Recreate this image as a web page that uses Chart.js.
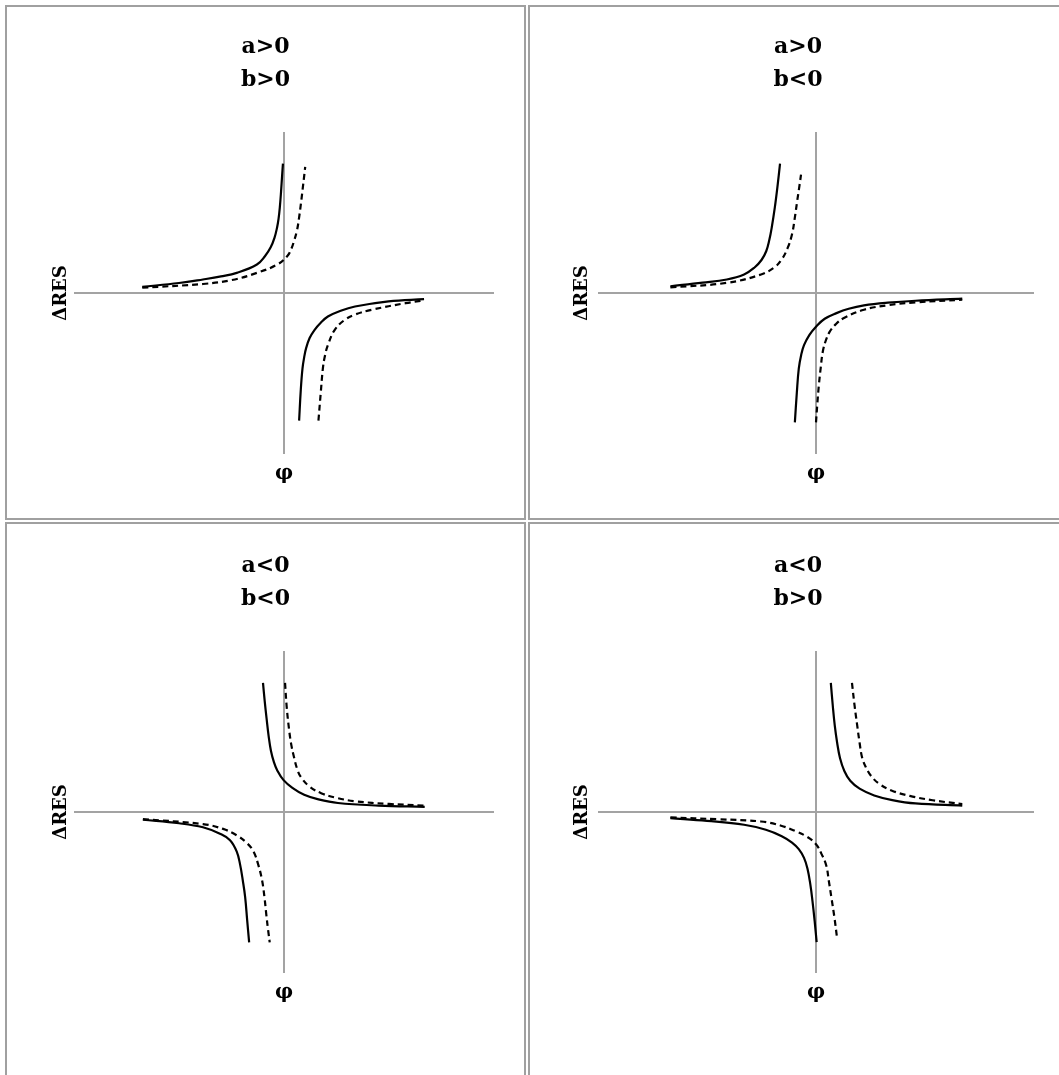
<!DOCTYPE html>
<html>
<head>
<meta charset="utf-8">
<script src="https://cdn.jsdelivr.net/npm/chart.js@4.4.1/dist/chart.umd.min.js"></script>
<style>
  body { margin: 0; background: #fff; overflow: hidden; width: 1059px; height: 1075px; }
  .cell { position: absolute; box-sizing: border-box; border: 2px solid #a0a0a0; }
  canvas { position: absolute; }
</style>
</head>
<body>
<div class="cell" style="left:5px;top:5px;width:521px;height:515px"></div>
<div class="cell" style="left:528px;top:5px;width:540px;height:515px"></div>
<div class="cell" style="left:5px;top:522px;width:521px;height:600px"></div>
<div class="cell" style="left:528px;top:522px;width:540px;height:600px"></div>

<canvas id="chart-0" width="517" height="511" style="left:7px;top:7px"></canvas>
<canvas id="chart-1" width="536" height="511" style="left:530px;top:7px"></canvas>
<canvas id="chart-2" width="517" height="511" style="left:7px;top:526px"></canvas>
<canvas id="chart-3" width="536" height="511" style="left:530px;top:526px"></canvas>

<script>
const xLabel = 'φ';
const yLabel = 'ΔRES';
const panelTitles = [['a>0', 'b>0'], ['a>0', 'b<0'], ['a<0', 'b<0'], ['a<0', 'b>0']];

// [φ, ΔRES] pairs, axes run -10..10
// a>0, b>0
const tlSolidUp = [[-6.75, 0.38], [-5, 0.62], [-3.86, 0.84], [-3, 1.03], [-2.25, 1.25], [-1.29, 1.77], [-0.9, 2.3], [-0.64, 2.82], [-0.45, 3.44], [-0.33, 4.07], [-0.26, 4.6], [-0.2, 5.3], [-0.14, 6.3], [-0.09, 7.3], [-0.05, 8.04]];
const tlSolidDown = [[0.72, -7.93], [0.8, -6.0], [0.88, -4.7], [0.96, -4.0], [1.05, -3.44], [1.22, -2.8], [1.45, -2.3], [1.75, -1.85], [2.09, -1.46], [2.7, -1.1], [3.38, -0.84], [4.98, -0.52], [6.67, -0.38]];
const tlDashUp = [[-6.75, 0.33], [-3.86, 0.56], [-2.5, 0.8], [-1.29, 1.25], [-0.32, 1.77], [0.16, 2.3], [0.35, 2.75], [0.48, 3.24], [0.62, 3.9], [0.72, 4.7], [0.82, 5.7], [0.91, 6.7], [1.01, 7.83]];
const tlDashDown = [[1.64, -7.93], [1.75, -6.2], [1.85, -4.7], [1.95, -3.9], [2.09, -3.24], [2.41, -2.3], [2.89, -1.67], [3.4, -1.33], [4.18, -1.04], [5.79, -0.63], [6.67, -0.46]];

// a>0, b<0
const trSolidUp = [[-6.68, 0.42], [-5.2, 0.64], [-4.09, 0.84], [-3.3, 1.15], [-2.83, 1.57], [-2.5, 2.05], [-2.28, 2.61], [-2.14, 3.3], [-2.03, 4.07], [-1.89, 5.3], [-1.77, 6.58], [-1.65, 8.04]];
const trSolidDown = [[-0.97, -8.04], [-0.88, -6.2], [-0.79, -4.7], [-0.68, -3.85], [-0.55, -3.24], [-0.3, -2.6], [0, -2.09], [0.4, -1.6], [0.94, -1.25], [1.5, -0.98], [2.2, -0.77], [3.3, -0.6], [4.56, -0.48], [6.71, -0.35]];
const trDashUp = [[-6.68, 0.35], [-4.09, 0.63], [-2.52, 1.15], [-1.9, 1.6], [-1.57, 2.09], [-1.3, 2.8], [-1.1, 3.65], [-0.98, 4.6], [-0.86, 5.74], [-0.755, 6.7], [-0.66, 7.62]];
const trDashDown = [[0, -8.04], [0.06, -6.9], [0.13, -5.74], [0.22, -4.6], [0.31, -3.65], [0.45, -2.95], [0.63, -2.4], [0.9, -1.95], [1.26, -1.57], [2.2, -1.04], [3.3, -0.76], [4.56, -0.58], [6.71, -0.42]];

// a<0, b<0
const blSolidUp = [[-1.0, 8.02], [-0.92, 6.9], [-0.83, 5.81], [-0.73, 4.7], [-0.62, 3.79], [-0.48, 3.1], [-0.32, 2.58], [-0.02, 1.98], [0.4, 1.5], [0.96, 1.07], [1.6, 0.8], [2.57, 0.56], [4.5, 0.4], [6.7, 0.32]];
const blSolidDown = [[-6.72, -0.48], [-5, -0.7], [-3.86, -0.95], [-3.05, -1.35], [-2.57, -1.75], [-2.25, -2.46], [-2.09, -3.27], [-1.96, -4.27], [-1.85, -5.28], [-1.755, -6.7], [-1.66, -8.1]];
const blDashUp = [[0.05, 8.02], [0.13, 6.5], [0.24, 5.14], [0.35, 4.15], [0.48, 3.39], [0.62, 2.7], [0.8, 2.18], [1.2, 1.6], [1.77, 1.17], [2.5, 0.88], [3.38, 0.67], [5, 0.5], [6.7, 0.4]];
const blDashDown = [[-6.72, -0.44], [-3.86, -0.75], [-2.9, -1.05], [-2.25, -1.45], [-1.75, -1.95], [-1.45, -2.46], [-1.22, -3.3], [-1.04, -4.27], [-0.93, -5.3], [-0.84, -6.4], [-0.76, -7.3], [-0.68, -8.1]];

// a<0, b>0
const brSolidUp = [[0.68, 8.02], [0.77, 6.6], [0.86, 5.38], [0.97, 4.3], [1.1, 3.36], [1.3, 2.55], [1.57, 1.94], [2.0, 1.45], [2.67, 1.03], [3.5, 0.74], [4.56, 0.53], [6.71, 0.4]];
const brSolidDown = [[-6.68, -0.38], [-5, -0.55], [-3.3, -0.79], [-2.3, -1.1], [-1.57, -1.5], [-1.1, -1.9], [-0.79, -2.31], [-0.55, -2.85], [-0.39, -3.52], [-0.26, -4.5], [-0.16, -5.55], [-0.06, -6.8], [0.03, -8.08]];
const brDashUp = [[1.65, 8.02], [1.77, 6.6], [1.89, 5.38], [2.0, 4.3], [2.12, 3.36], [2.3, 2.75], [2.52, 2.25], [2.9, 1.75], [3.46, 1.34], [4.3, 1.0], [5.35, 0.73], [6.71, 0.49]];
const brDashDown = [[-6.68, -0.34], [-4.5, -0.45], [-2.52, -0.59], [-1.6, -0.85], [-0.94, -1.19], [-0.4, -1.55], [0, -2.0], [0.25, -2.6], [0.47, -3.32], [0.59, -4.3], [0.71, -5.34], [0.85, -6.6], [0.97, -7.87]];

const panels = [
    { solid: [tlSolidUp, tlSolidDown], dashed: [tlDashUp, tlDashDown] },
    { solid: [trSolidUp, trSolidDown], dashed: [trDashUp, trDashDown] },
    { solid: [blSolidUp, blSolidDown], dashed: [blDashUp, blDashDown] },
    { solid: [brSolidUp, brSolidDown], dashed: [brDashUp, brDashDown] }
];

// left/right spacing around the plot area, per column
const boxes = [
    { left: 67, right: 30, labelPad: 44 },
    { left: 68, right: 32, labelPad: 42 },
    { left: 67, right: 30, labelPad: 44 },
    { left: 68, right: 32, labelPad: 42 }
];

Chart.defaults.font.family = "'DejaVu Serif', serif";
Chart.defaults.color = '#000';

const AXIS_GRAY = '#a3a3a3';
const zeroLine = ctx => (ctx.tick && ctx.tick.value === 0) ? AXIS_GRAY : 'rgba(0,0,0,0)';

function branch(points, dashed) {
    return {
        data: points.map(([x, y]) => ({ x, y })),
        showLine: true,
        pointRadius: 0,
        borderColor: '#000',
        borderWidth: 2.2,
        borderDash: dashed ? [6, 4] : [],
        tension: 0.4,
        fill: false
    };
}

function makeChart(index) {
    const panel = panels[index];
    const box = boxes[index];
    const datasets = [
        ...panel.solid.map(p => branch(p, false)),
        ...panel.dashed.map(p => branch(p, true))
    ];

    new Chart(document.getElementById(`chart-${index}`), {
        type: 'scatter',
        data: { datasets },
        options: {
            responsive: false,
            animation: false,
            events: [],
            plugins: {
                legend: { display: false },
                tooltip: { enabled: false },
                title: {
                    display: true,
                    text: panelTitles[index],
                    font: { size: 22, weight: 'bold', lineHeight: 1.5 },
                    padding: { top: 24, bottom: 35 }
                }
            },
            scales: {
                x: {
                    type: 'linear',
                    min: -10,
                    max: 10,
                    ticks: { display: false, stepSize: 10 },
                    grid: { color: zeroLine, lineWidth: 2, drawTicks: false },
                    border: { display: false },
                    title: { display: true, text: xLabel, font: { size: 20, weight: 'bold' }, padding: { top: 0, bottom: 32 } },
                    afterFit: s => { s.height = 64; }
                },
                y: {
                    type: 'linear',
                    position: 'left',
                    min: -10,
                    max: 10,
                    ticks: { display: false, stepSize: 10 },
                    grid: { color: zeroLine, lineWidth: 2, drawTicks: false },
                    border: { display: false },
                    title: { display: true, text: yLabel, font: { size: 18, weight: 'bold' }, padding: { top: box.labelPad, bottom: 0 } },
                    afterFit: s => { s.width = box.left; }
                },
                // empty spacer so the plot sits left of the cell centre like the original
                y2: {
                    type: 'linear',
                    position: 'right',
                    ticks: { display: false },
                    grid: { display: false },
                    border: { display: false },
                    afterFit: s => { s.width = box.right; }
                }
            }
        }
    });
}

[0, 1, 2, 3].forEach(makeChart);
</script>
</body>
</html>
